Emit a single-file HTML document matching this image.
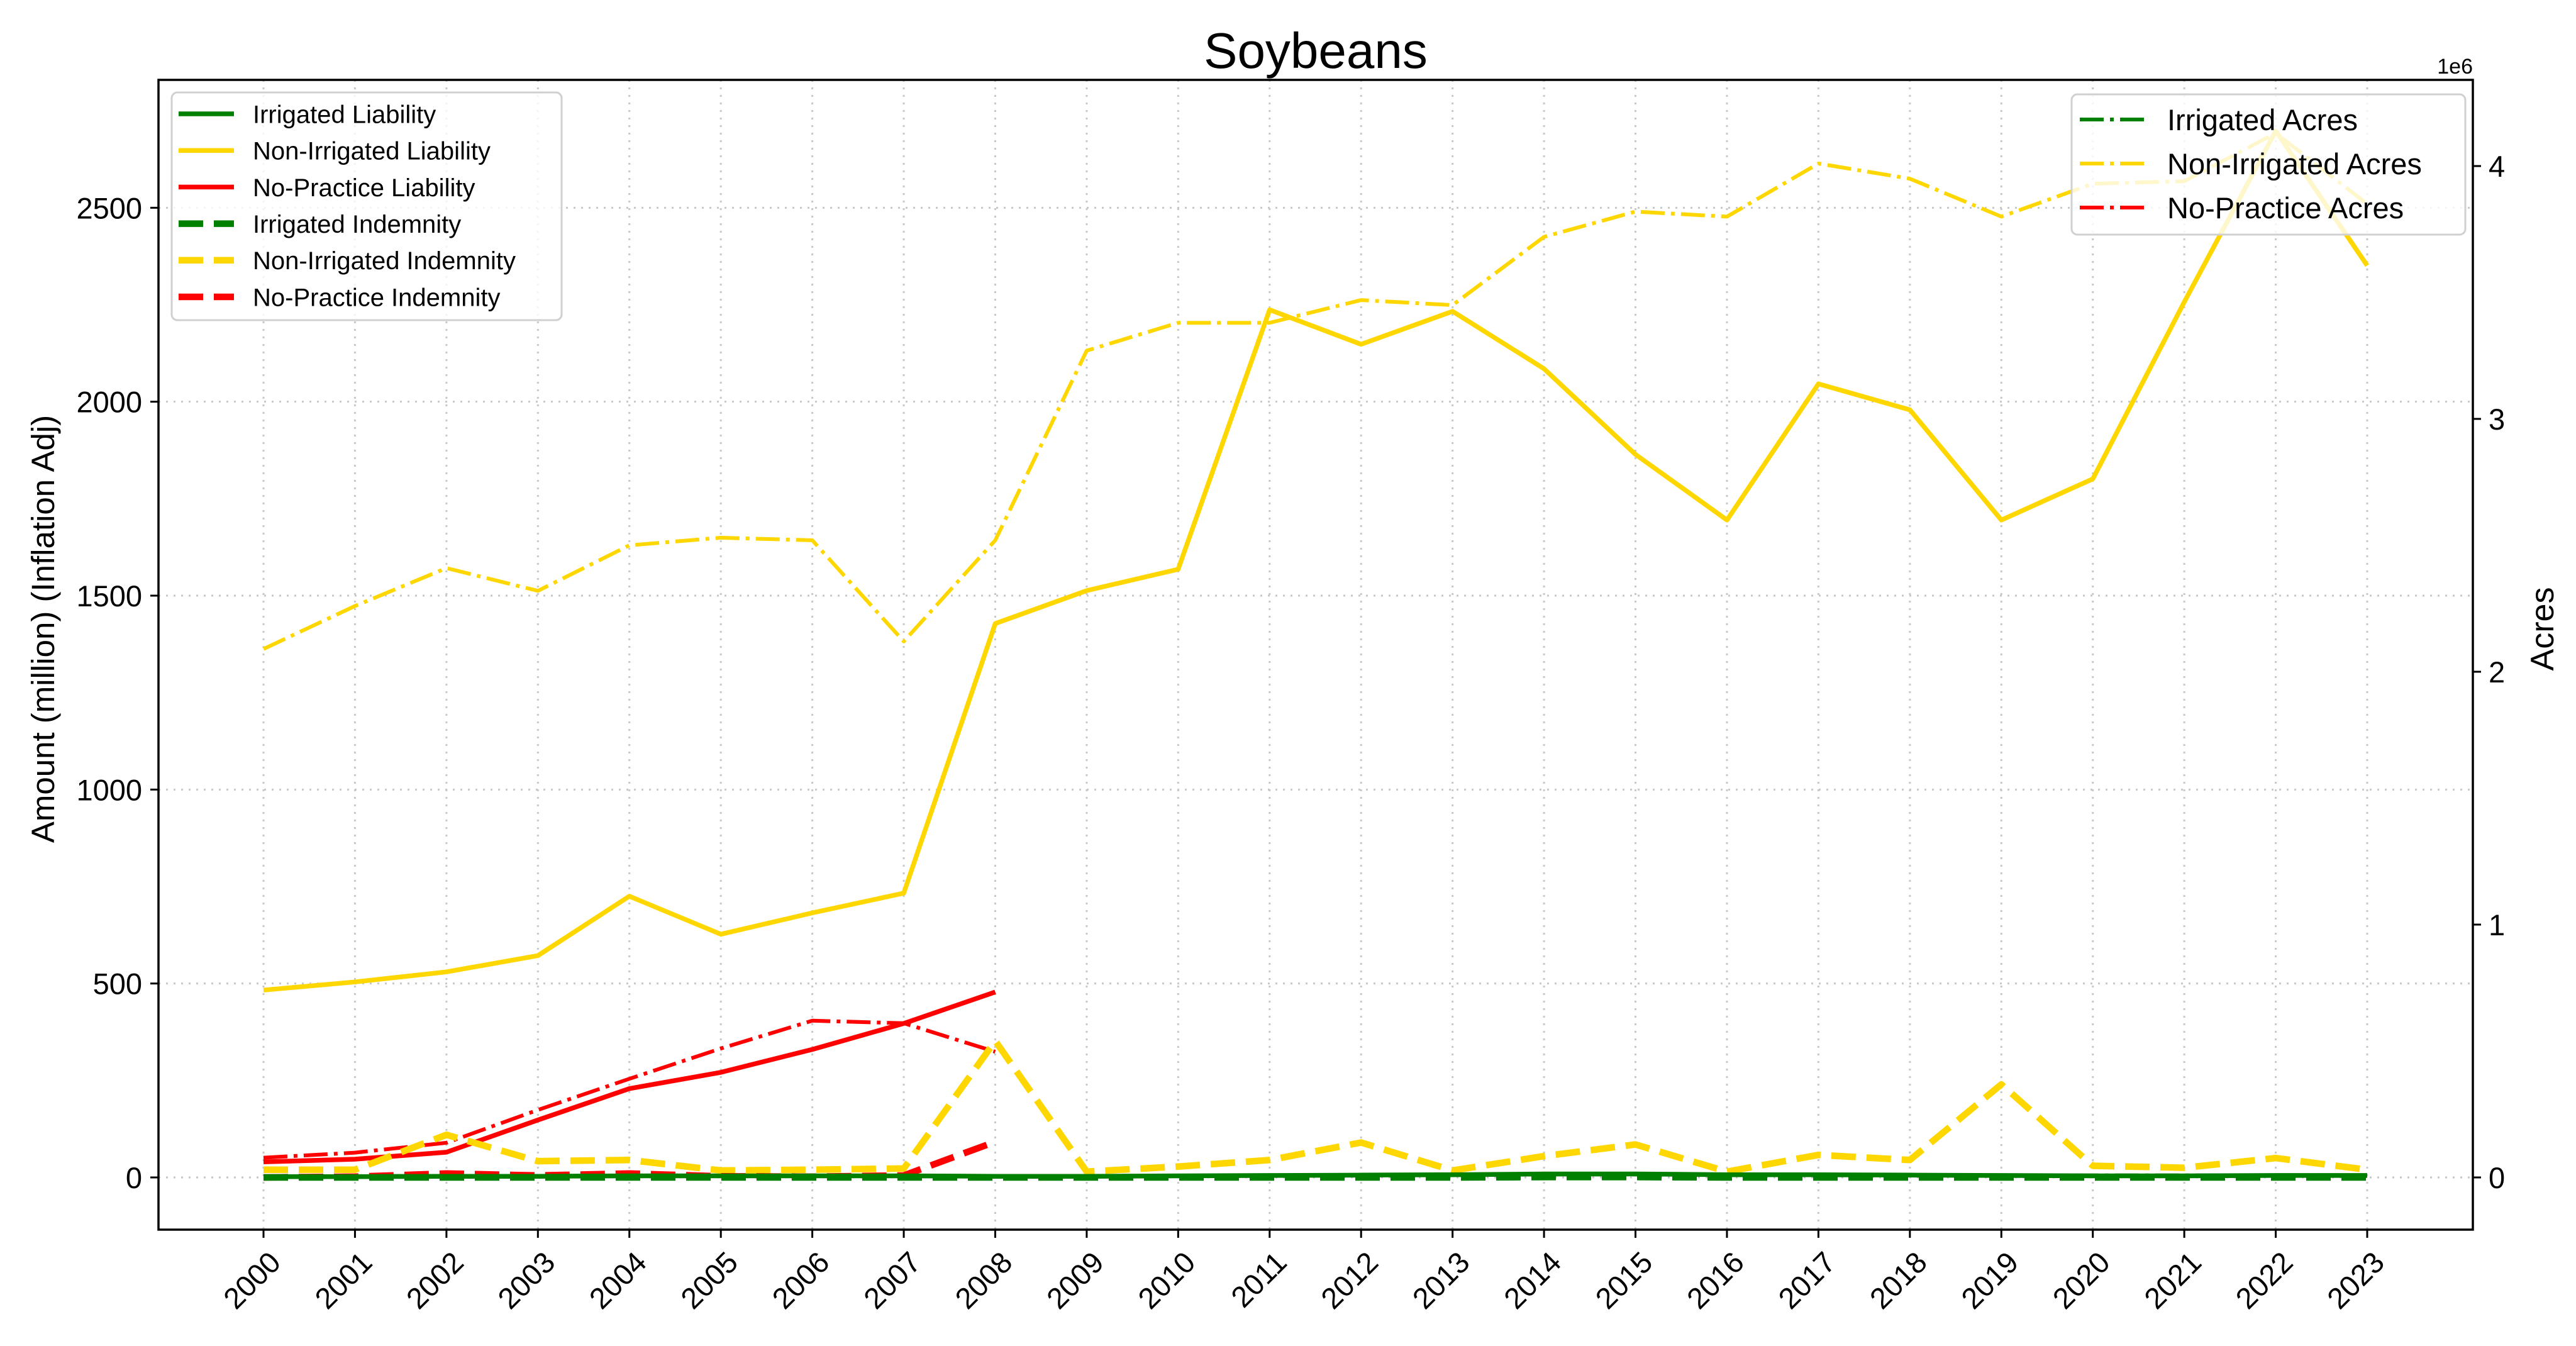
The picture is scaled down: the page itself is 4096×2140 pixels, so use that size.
<!DOCTYPE html>
<html><head><meta charset="utf-8"><style>html,body{margin:0;padding:0;background:#fff}svg{display:block}</style></head>
<body>
<svg id="chart" xmlns="http://www.w3.org/2000/svg" width="4096" height="2140" viewBox="0 0 4096 2140" font-family="'Liberation Sans', 'DejaVu Sans', sans-serif">
<rect width="4096" height="2140" fill="#fff"/>
<text x="2092" y="108" font-size="80" text-anchor="middle">Soybeans</text>
<g id="grid"></g>
<g id="series"></g>
<rect x="252" y="127" width="3680" height="1828" fill="none" stroke="#000" stroke-width="3.5"/>
<g id="axes"></g>
<text x="0" y="0" transform="translate(86,1000) rotate(-90)" font-size="51" text-anchor="middle">Amount (million) (Inflation Adj)</text>
<text x="0" y="0" transform="translate(4060,1000) rotate(-90)" font-size="52" text-anchor="middle">Acres</text>
<text x="3932" y="117" font-size="34" text-anchor="end">1e6</text>
<g id="legend-left"></g>
<g id="legend-right"></g>
</svg>
<script>
const years = [2000,2001,2002,2003,2004,2005,2006,2007,2008,2009,2010,2011,2012,2013,2014,2015,2016,2017,2018,2019,2020,2021,2022,2023];
const irrLiability = [2,2,3,3,4,4,4,4,3,3,4,5,6,7,9,9,7,7,6,5,4,4,5,5];
const nonIrrLiability = [483,504,530,572,725,627,682,733,1428,1513,1568,2237,2148,2233,2085,1864,1695,2046,1979,1695,1801,2257,2698,2351];
const noPracLiability = [40,47,65,148,229,271,330,397,478];
const irrIndemnity = [0,0,0,0,0,0,0,0,0,0,0,0,0,0,1,1,0,0,0,0,0,0,0,0];
const nonIrrIndemnity = [20,20,110,42,45,18,20,23,352,15,28,45,90,18,55,85,15,58,45,240,30,25,50,20];
const noPracIndemnity = [0,2,10,5,10,3,2,5,92];
const irrAcres = [5000,5000,6000,6000,7000,7000,7000,7000,6000,6000,7000,8000,9000,9000,12000,12000,10000,10000,9000,8000,8000,8000,9000,9000];
const nonIrrAcres = [2090000,2260000,2410000,2320000,2500000,2530000,2520000,2120000,2520000,3270000,3380000,3380000,3470000,3450000,3720000,3820000,3800000,4010000,3950000,3800000,3930000,3940000,4130000,3850000];
const noPracAcres = [78000,98000,137000,267000,390000,510000,620000,610000,497000];
const leftTicks = [0,500,1000,1500,2000,2500];
const rightTicks = [0,1,2,3,4];

const NS='http://www.w3.org/2000/svg';
const X0=419, DX=(3764-419)/23;
function xPos(yr){return X0+(yr-2000)*DX;}
function yLeft(v){return 1872-v*(1872-947)/1500;}
function yRight(v){return 1872-v*(1872-264)/4e6;}
function mk(tag,attrs,parent){const e=document.createElementNS(NS,tag);for(const k in attrs)e.setAttribute(k,attrs[k]);parent.appendChild(e);return e;}

const grid=document.getElementById('grid');
years.forEach(yr=>{const l=mk('line',{x1:xPos(yr),x2:xPos(yr),y1:127,y2:1955,stroke:'#c8c8c8','stroke-width':3,'stroke-dasharray':'3 9'},grid);

});
leftTicks.forEach(v=>{const l=mk('line',{x1:252,x2:3932,y1:yLeft(v),y2:yLeft(v),stroke:'#c8c8c8','stroke-width':3,'stroke-dasharray':'3 9'},grid);

});

const axes=document.getElementById('axes');
years.forEach(yr=>{const x=xPos(yr);
const t=mk('line',{x1:x,x2:x,y1:1955,y2:1968,stroke:'#000','stroke-width':3},axes);


const tx=mk('text',{transform:`translate(${x+30},2010) rotate(-45)`,'font-size':47,'text-anchor':'end'},axes);
tx.textContent=yr;

});
leftTicks.forEach(v=>{const y=yLeft(v);
const t=mk('line',{x1:239,x2:252,y1:y,y2:y,stroke:'#000','stroke-width':3},axes);


const tx=mk('text',{x:226,y:y+17,'font-size':47,'text-anchor':'end'},axes);
tx.textContent=v;

});
rightTicks.forEach(v=>{const y=yRight(v*1e6);
const t=mk('line',{x1:3932,x2:3945,y1:y,y2:y,stroke:'#000','stroke-width':3},axes);


const tx=mk('text',{x:3957,y:y+17,'font-size':47},axes);
tx.textContent=v;

});

const GREEN='#008000',GOLD='#FFD700',RED='#FF0000';
const STY={solid:{w:7.5,d:''},dashed:{w:10.5,d:'39 17'},dashdot:{w:6,d:'38 10 6 10'}};
const seriesG=document.getElementById('series');
function draw(vals,yf,color,style,name){
  const pts=vals.map((v,i)=>xPos(years[i]).toFixed(1)+','+yf(v).toFixed(1)).join(' ');
  const p=mk('polyline',{points:pts,fill:'none',stroke:color,'stroke-width':STY[style].w,'stroke-dasharray':STY[style].d,'stroke-linejoin':'round'},seriesG);
  
  
}
draw(nonIrrAcres,yRight,GOLD,'dashdot','non-irrigated-acres-line');
draw(noPracAcres,yRight,RED,'dashdot','no-practice-acres-line');
draw(irrAcres,yRight,GREEN,'dashdot','irrigated-acres-line');
draw(nonIrrLiability,yLeft,GOLD,'solid','non-irrigated-liability-line');
draw(noPracLiability,yLeft,RED,'solid','no-practice-liability-line');
draw(nonIrrIndemnity,yLeft,GOLD,'dashed','non-irrigated-indemnity-line');
draw(noPracIndemnity,yLeft,RED,'dashed','no-practice-indemnity-line');
draw(irrLiability,yLeft,GREEN,'solid','irrigated-liability-line');
draw(irrIndemnity,yLeft,GREEN,'dashed','irrigated-indemnity-line');

function legend(gid,box,entries,fs,rowY0,rowDY,sx0,sx1,tx){
  const g=document.getElementById(gid);
  const r=mk('rect',{x:box[0],y:box[1],width:box[2],height:box[3],rx:9,fill:'#fff','fill-opacity':0.8,stroke:'#d0d0d0','stroke-width':3},g);
  
  
  entries.forEach((e,i)=>{const y=rowY0+i*rowDY;
    const st=STY[e[2]];
    const l=mk('line',{x1:sx0,x2:sx1,y1:y,y2:y,stroke:e[1],'stroke-width':st.w,'stroke-dasharray':st.d},g);
    
    
    const t=mk('text',{x:tx,y:y+fs*0.36,'font-size':fs},g);
    t.textContent=e[0];
    
    
  });
}
legend('legend-left',[273,147,620,362],[
 ['Irrigated Liability',GREEN,'solid'],['Non-Irrigated Liability',GOLD,'solid'],['No-Practice Liability',RED,'solid'],
 ['Irrigated Indemnity',GREEN,'dashed'],['Non-Irrigated Indemnity',GOLD,'dashed'],['No-Practice Indemnity',RED,'dashed']],
 40,181,58.2,284,372,402);
legend('legend-right',[3294,150,626,223],[
 ['Irrigated Acres',GREEN,'dashdot'],['Non-Irrigated Acres',GOLD,'dashdot'],['No-Practice Acres',RED,'dashdot']],
 47,190,70,3307,3412,3446);
</script>
</body></html>
